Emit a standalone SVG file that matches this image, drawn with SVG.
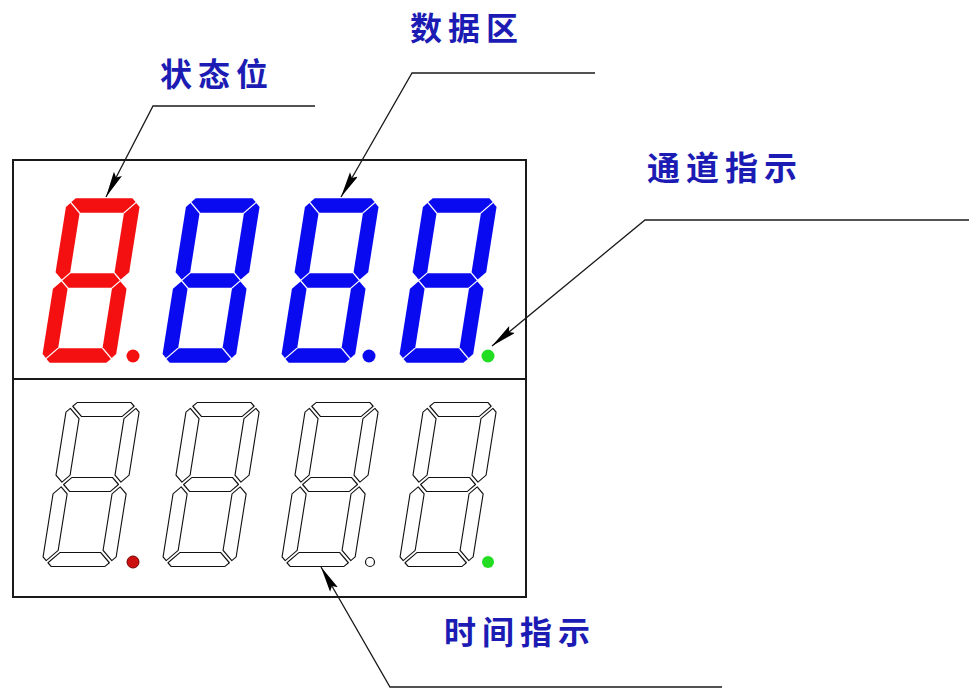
<svg xmlns="http://www.w3.org/2000/svg" xmlns:xlink="http://www.w3.org/1999/xlink" width="969" height="690" viewBox="0 0 969 690">
<style>
.lbl{font-family:"Noto Sans CJK SC","Noto Sans CJK JP",sans-serif;font-weight:bold;font-size:32px;fill:#1c1cb4;letter-spacing:6px}
.lead{fill:none;stroke:#1a1a1a;stroke-width:1.3}
.box{fill:none;stroke:#1a1a1a;stroke-width:2}
.red{fill:#f41010;stroke:none}
.blue{fill:#0a0af0;stroke:none}
.off{fill:none;stroke:#111;stroke-width:1.2;stroke-linejoin:round}
</style>
<defs>
<marker id="arr" markerUnits="userSpaceOnUse" markerWidth="28" markerHeight="12" refX="26" refY="4.5" orient="auto">
<path d="M0,0 L26,4.5 L0,9 L4,4.5 z" fill="#000"/>
</marker>
<g id="dg">
<polygon transform="translate(37 7.5) scale(.975) translate(-37 -7.5)" points="8,0 66,0 70,4 59,15 15,15 4,4"/>
<polygon transform="translate(66.5 43) scale(.975) translate(-66.5 -43)" points="74,8 70,4 59,15 59,75 66.5,82.5 74,75"/>
<polygon transform="translate(66.5 122) scale(.975) translate(-66.5 -122)" points="66.5,82.5 59,90 59,150 70,161 74,157 74,90"/>
<polygon transform="translate(37 157.5) scale(.975) translate(-37 -157.5)" points="4,161 15,150 59,150 70,161 66,165 8,165"/>
<polygon transform="translate(7.5 122) scale(.975) translate(-7.5 -122)" points="7.5,82.5 15,90 15,150 4,161 0,157 0,90"/>
<polygon transform="translate(7.5 43) scale(.975) translate(-7.5 -43)" points="0,8 4,4 15,15 15,75 7.5,82.5 0,75"/>
<polygon transform="translate(37 82.5) scale(.975) translate(-37 -82.5)" points="7.5,82.5 15,75 59,75 66.5,82.5 59,90 15,90"/>
</g>
<g id="dgo">
<polygon transform="translate(37 7.5) scale(.93) translate(-37 -7.5)" points="8,0 66,0 70,4 59,15 15,15 4,4"/>
<polygon transform="translate(66.5 43) scale(.94) translate(-66.5 -43)" points="74,8 70,4 59,15 59,75 66.5,82.5 74,75"/>
<polygon transform="translate(66.5 122) scale(.94) translate(-66.5 -122)" points="66.5,82.5 59,90 59,150 70,161 74,157 74,90"/>
<polygon transform="translate(37 157.5) scale(.93) translate(-37 -157.5)" points="4,161 15,150 59,150 70,161 66,165 8,165"/>
<polygon transform="translate(7.5 122) scale(.94) translate(-7.5 -122)" points="7.5,82.5 15,90 15,150 4,161 0,157 0,90"/>
<polygon transform="translate(7.5 43) scale(.94) translate(-7.5 -43)" points="0,8 4,4 15,15 15,75 7.5,82.5 0,75"/>
<polygon transform="translate(37 82.5) scale(.93) translate(-37 -82.5)" points="7.5,82.5 15,75 59,75 66.5,82.5 59,90 15,90"/>
</g>
</defs>
<rect width="969" height="690" fill="#fff"/>
<g id="panel">
<rect class="box" x="13" y="160" width="513" height="437"/>
<line class="box" x1="13" y1="379" x2="526" y2="379"/>
</g>
<g id="row-top">
<use xlink:href="#dg" class="red" transform="translate(41 363) skewX(-9) translate(0 -165)"/>
<use xlink:href="#dg" class="blue" transform="translate(161 363) skewX(-9) translate(0 -165)"/>
<use xlink:href="#dg" class="blue" transform="translate(280 363) skewX(-9) translate(0 -165)"/>
<use xlink:href="#dg" class="blue" transform="translate(398 363) skewX(-9) translate(0 -165)"/>
<circle cx="133" cy="356" r="6.5" fill="#f41010"/>
<circle cx="369" cy="356" r="6.5" fill="#0a0af0"/>
<circle cx="488" cy="356" r="6.5" fill="#22dd22"/>
</g>
<g id="row-bottom">
<use xlink:href="#dgo" class="off" transform="translate(41 567) skewX(-9) translate(0 -165)"/>
<use xlink:href="#dgo" class="off" transform="translate(161 567) skewX(-9) translate(0 -165)"/>
<use xlink:href="#dgo" class="off" transform="translate(280 567) skewX(-9) translate(0 -165)"/>
<use xlink:href="#dgo" class="off" transform="translate(398 567) skewX(-9) translate(0 -165)"/>
<circle cx="133" cy="562" r="6" fill="#cc1010" stroke="#700" stroke-width="1"/>
<circle cx="370" cy="562" r="4.5" fill="#fff" stroke="#111" stroke-width="1.2"/>
<circle cx="488" cy="562" r="6" fill="#22dd22"/>
</g>
<g id="connectors">
<polyline class="lead" points="315,106 153,106 106,197" marker-end="url(#arr)"/>
<polyline class="lead" points="595,73 412,73 341,197" marker-end="url(#arr)"/>
<polyline class="lead" points="969,220 645,220 492,346" marker-end="url(#arr)"/>
<polyline class="lead" points="722,687 390,687 321,567" marker-end="url(#arr)"/>
</g>
<g id="label-status"><text class="lbl" x="160" y="86">状态位</text></g>
<g id="label-data"><text class="lbl" x="410" y="40">数据区</text></g>
<g id="label-channel"><text class="lbl" x="647" y="180" style="font-size:33px">通道指示</text></g>
<g id="label-time"><text class="lbl" x="444" y="644">时间指示</text></g>
</svg>
